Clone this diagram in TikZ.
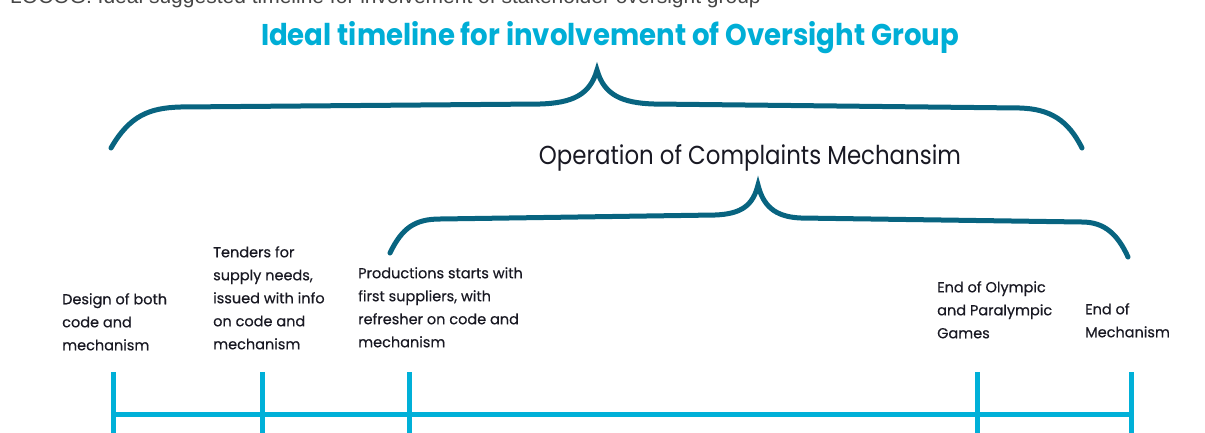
\documentclass[tikz,border=0pt]{standalone}
\usepackage{fontspec}
\usetikzlibrary{positioning}
\newfontfamily\capfont{Liberation Sans}
\newfontfamily\headfont{Poppins}[FakeStretch=0.92]
\newfontfamily\operfont{Poppins}[FakeStretch=0.88]
\newfontfamily\lblfont{Poppins}[FakeBold=0.5]
\definecolor{capgray}{RGB}{70,70,70}
\definecolor{headblue}{RGB}{0,174,214}
\definecolor{bracecol}{RGB}{8,100,128}
\definecolor{linecol}{RGB}{0,176,216}
\definecolor{ink}{RGB}{25,25,35}
\tikzset{
  lbl/.style={font=\lblfont\fontsize{14.5}{23}\selectfont, text=ink, align=left, anchor=north west, inner sep=0pt},
  brace/.style={draw=bracecol, line width=5pt, line cap=round},
  tick/.style={draw=linecol, line width=5pt}
}
\begin{document}
\begin{tikzpicture}[x=1pt,y=-1pt]
 \useasboundingbox (0,0) rectangle (1205,432);
 % caption, cut at the top
 \node[anchor=base west, inner sep=0pt, font=\capfont\fontsize{21}{24}\selectfont, text=capgray] (cap) at (10,3)
   {LOCOG: Ideal suggested timeline for involvement of stakeholder oversight group};
 \node[font=\headfont\bfseries\fontsize{30}{36}\selectfont, text=headblue] (title) at (610,38)
   {Ideal timeline for involvement of Oversight Group};
 % braces
 \draw[brace] (111,148) .. controls (130,115) and (150,108) .. (180,107) -- (540,104)
   .. controls (572,103) and (590,95) .. (597,70) .. controls (604,95) and (622,103) .. (654,104)
   -- (1020,108) .. controls (1050,109) and (1068,120) .. (1082,148);
 \node[font=\operfont\fontsize{26}{30}\selectfont, text=ink] (oper) at (750,158) {Operation of Complaints Mechansim};
 \draw[brace] (390,253) .. controls (402,228) and (415,219) .. (440,219) -- (715,215)
   .. controls (742,214) and (753,205) .. (758,185) .. controls (763,205) and (774,217) .. (801,218)
   -- (1082,222) .. controls (1105,222) and (1118,235) .. (1128,257);
 % milestones
 \node[lbl] (design) at (62,293) {Design of both\\code and\\mechanism};
 \node[lbl] (tender) at (213,246) {Tenders for\\supply needs,\\issued with info\\on code and\\mechanism};
 \node[lbl] (prod) at (358,267) {Productions starts with\\first suppliers, with\\refresher on code and\\mechanism};
 \node[lbl] (games) at (937,281) {End of Olympic\\and Paralympic\\Games};
 \node[lbl] (close) at (1085,303) {End of\\Mechanism};
 % timeline
 \foreach \x/\n in {113/t1,262/t2,409/t3,977/t4,1131/t5}{
   \coordinate (\n) at (\x,414);
   \draw[tick] (\n) ++(0,-42) -- ++(0,62);
 }
 \draw[tick] (t1) -- (t5);
\end{tikzpicture}
\end{document}
